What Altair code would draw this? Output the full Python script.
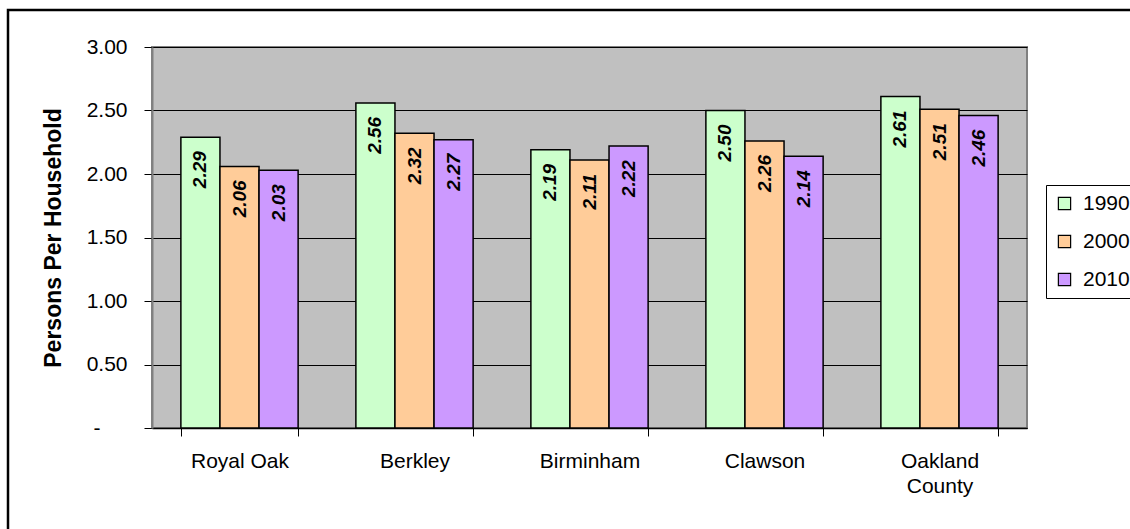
import altair as alt
import pandas as pd

places = ["Royal Oak", "Berkley", "Birminham", "Clawson", "Oakland County"]
years = ["1990", "2000", "2010"]
v1990 = [2.29, 2.56, 2.19, 2.50, 2.61]
v2000 = [2.06, 2.32, 2.11, 2.26, 2.51]
v2010 = [2.03, 2.27, 2.22, 2.14, 2.46]
colors = ["#CCFFCC", "#FFCC99", "#CC99FF"]
y_ticks = [0, 0.5, 1.0, 1.5, 2.0, 2.5, 3.0]

rows = []
for i, p in enumerate(places):
    for yr, vals in zip(years, [v1990, v2000, v2010]):
        rows.append({"place": p, "year": yr, "value": vals[i]})
df = pd.DataFrame(rows)

FONT = "Liberation Sans"
W, H = 875, 381

x_enc = alt.X(
    "place:N",
    sort=places,
    scale=alt.Scale(paddingInner=0.33, paddingOuter=0.165),
    axis=alt.Axis(
        title=None,
        tickBand="extent",
        tickSize=8,
        tickColor="black",
        domainColor="black",
        domainWidth=1.5,
        labelFont=FONT,
        labelFontSize=21,
        labelColor="black",
        labelPadding=14,
        labelLineHeight=25,
        labelAngle=0,
        labelBaseline="top",
        labelExpr="datum.label == 'Oakland County' ? ['Oakland', 'County'] : datum.label",
        grid=False,
    ),
)
xo_enc = alt.XOffset("year:N", sort=years, scale=alt.Scale(paddingInner=0, paddingOuter=0))
y_enc = alt.Y(
    "value:Q",
    scale=alt.Scale(domain=[0, 3], nice=False, zero=True),
    axis=alt.Axis(
        values=y_ticks,
        labelExpr="datum.value == 0 ? '-' : format(datum.value, '.2f')",
        title="Persons Per Household",
        titleFont=FONT,
        titleFontSize=23,
        titleFontWeight="bold",
        titleColor="black",
        titlePadding=21,
        labelFont=FONT,
        labelFontSize=21,
        labelColor="black",
        labelPadding={"condition": {"test": "datum.value == 0", "value": 44}, "value": 17},
        tickSize=8,
        tickColor="black",
        domainColor="#808080",
        domainWidth=2,
        grid=True,
        gridColor="black",
        gridWidth=1,
    ),
)

frame = alt.Chart(pd.DataFrame({"a": [0]})).mark_rect(
    fillOpacity=0, stroke="black", strokeWidth=2.5
).encode(
    x=alt.value(-144), x2=alt.value(1000), y=alt.value(-37), y2=alt.value(500)
)

bars = alt.Chart(df).mark_bar(stroke="black", strokeWidth=1.5).encode(
    x=x_enc,
    xOffset=xo_enc,
    y=y_enc,
    color=alt.Color(
        "year:N",
        scale=alt.Scale(domain=years, range=colors),
        legend=alt.Legend(
            title=None,
            orient="none",
            legendX=894,
            legendY=138,
            strokeColor="black",
            fillColor="white",
            padding=8,
            symbolType="square",
            symbolSize=150,
            symbolStrokeColor="black",
            symbolStrokeWidth=1.2,
            labelFont=FONT,
            labelFontSize=21,
            labelColor="black",
            labelOffset=8,
            rowPadding=16,
        ),
    ),
)

labels = alt.Chart(df).mark_text(
    angle=270,
    align="right",
    baseline="middle",
    dx=-14,
    font=FONT,
    fontSize=19,
    fontWeight="bold",
    fontStyle="italic",
    color="black",
).encode(
    x=alt.X("place:N", sort=places),
    xOffset=xo_enc,
    y=alt.Y("value:Q"),
    text=alt.Text("value:Q", format=".2f"),
)

chart = (
    alt.layer(frame, bars, labels)
    .properties(
        width=W,
        height=H,
        autosize=alt.AutoSizeParams(type="none"),
        padding={"left": 152, "top": 47, "right": 103, "bottom": 101},
        background="white",
    )
    .configure_view(fill="#C0C0C0", stroke="#808080", strokeWidth=2)
)

chart.save("out.html", embed_options={"renderer": "svg", "actions": False})
